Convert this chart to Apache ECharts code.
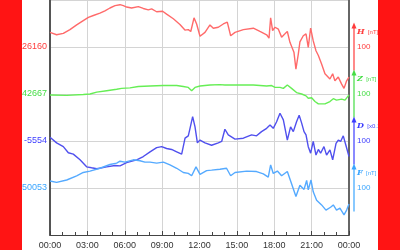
<!DOCTYPE html>
<html><head><meta charset="utf-8">
<script src="https://cdn.jsdelivr.net/npm/echarts@6/dist/echarts.min.js"></script>
<style>html,body{margin:0;padding:0;background:#fff}#c{width:400px;height:250px}</style>
</head><body><div id="c"></div>
<script>
// ---- data (hour of day, value) ----
const xLabels = ['00:00','03:00','06:00','09:00','12:00','15:00','18:00','21:00','00:00'];
const baseLabels = ['26160','42667','-5554','50053'];
const scaleLabels = ['100','100','100','100'];
const names = ['H','Z','D','F'];
const units = ['[nT]','[nT]',"[x0.1']",'[nT]'];

const hData = [[0,26191],[0.53,26186],[1.07,26189],[1.6,26197],[2.14,26207],[2.67,26216],[3.08,26223],[3.48,26227],[4.01,26232],[4.41,26237],[4.81,26243],[5.22,26248],[5.62,26250],[5.89,26248],[6.15,26245],[6.55,26243],[7.09,26246],[7.49,26242],[7.89,26239],[8.16,26241],[8.56,26235],[9.04,26236],[9.36,26230],[9.9,26220],[10.43,26208],[10.83,26196],[11.1,26197],[11.3,26193],[11.56,26222],[11.77,26209],[12.04,26183],[12.44,26191],[12.84,26207],[13.11,26200],[13.51,26202],[13.91,26209],[14.23,26213],[14.5,26184],[14.85,26191],[15.52,26197],[16.32,26200],[16.85,26193],[17.39,26186],[17.58,26179],[17.71,26222],[17.87,26195],[18.06,26202],[18.33,26198],[18.59,26181],[18.86,26188],[19.05,26193],[19.26,26170],[19.58,26149],[19.74,26113],[19.93,26145],[20.06,26171],[20.33,26184],[20.55,26188],[20.73,26159],[20.92,26200],[21.13,26173],[21.35,26152],[21.54,26142],[21.8,26124],[22.07,26103],[22.47,26092],[22.69,26103],[22.87,26088],[23.14,26096],[23.41,26081],[23.6,26072],[23.81,26088],[24,26096]];

const zData = [[0,42665],[1.34,42664],[2.67,42666],[3.21,42667],[3.75,42671],[4.55,42674],[5.35,42677],[5.75,42679],[6.42,42680],[7.09,42683],[8.03,42684],[9.1,42685],[10.17,42685],[10.7,42683],[11.1,42681],[11.37,42674],[11.64,42681],[12.04,42684],[12.84,42686],[13.64,42687],[14.04,42686],[15.25,42686],[16.32,42686],[17.39,42684],[17.79,42685],[18.06,42681],[18.46,42681],[18.73,42679],[19.05,42686],[19.39,42679],[19.79,42670],[20.2,42667],[20.55,42663],[20.73,42658],[21.0,42659],[21.27,42651],[21.54,42646],[22.07,42646],[22.47,42651],[22.74,42657],[23.0,42654],[23.41,42656],[23.68,42654],[24,42665]];

const dData = [[0,-5546],[0.53,-5558],[1.07,-5566],[1.47,-5579],[1.87,-5582],[2.41,-5594],[2.94,-5609],[3.34,-5611],[3.75,-5613],[4.55,-5609],[5.22,-5606],[5.62,-5607],[6.15,-5600],[6.96,-5594],[7.49,-5587],[8.03,-5577],[8.56,-5568],[8.96,-5566],[9.36,-5570],[9.76,-5572],[10.17,-5577],[10.57,-5582],[10.84,-5548],[11.1,-5543],[11.24,-5527],[11.45,-5502],[11.64,-5524],[11.83,-5558],[12.04,-5552],[12.44,-5558],[12.97,-5563],[13.51,-5558],[13.78,-5555],[14.04,-5529],[14.31,-5541],[14.85,-5550],[15.52,-5548],[16.18,-5541],[16.58,-5543],[16.98,-5534],[17.39,-5527],[17.66,-5520],[17.92,-5527],[18.19,-5513],[18.46,-5495],[18.73,-5509],[19.05,-5552],[19.31,-5524],[19.53,-5534],[19.79,-5513],[20.0,-5499],[20.2,-5516],[20.39,-5534],[20.55,-5541],[20.73,-5566],[20.92,-5580],[21.13,-5555],[21.35,-5584],[21.54,-5572],[21.72,-5580],[21.99,-5566],[22.2,-5584],[22.47,-5573],[22.69,-5594],[22.96,-5559],[23.14,-5552],[23.33,-5555],[23.54,-5543],[23.75,-5563],[24,-5587]];

const fData = [[0,50068],[0.53,50065],[1.34,50070],[2.14,50079],[2.67,50086],[3.21,50089],[4.01,50095],[4.81,50103],[5.35,50106],[5.62,50110],[6.02,50108],[6.69,50113],[7.22,50111],[7.62,50108],[8.03,50108],[8.56,50106],[9.1,50108],[9.63,50102],[10.17,50095],[10.7,50086],[11.1,50084],[11.37,50079],[11.72,50098],[12.04,50082],[12.57,50090],[12.97,50091],[13.64,50093],[14.17,50095],[14.5,50079],[14.85,50086],[15.79,50089],[16.58,50088],[17.12,50083],[17.52,50076],[17.71,50102],[17.92,50084],[18.25,50089],[18.59,50079],[19.05,50088],[19.39,50062],[19.74,50035],[20.06,50059],[20.39,50050],[20.6,50069],[20.73,50049],[20.95,50070],[21.13,50045],[21.4,50027],[21.8,50017],[22.15,50006],[22.52,50012],[22.74,50017],[23.0,50006],[23.27,50010],[23.6,49996],[23.81,50006],[24,50019]];

// ---- layout / style ----
const bases = [26160, 42667, -5554, 50053];
const offsets = [400, 300, 200, 100];
const lineColors = ['#ff6a6a', '#66ee55', '#5050ee', '#55aaff'];
const labelColors = ['#ff3b3b', '#44dd44', '#3c3cff', '#3aa5ff'];
const keys = ['h','z','d','f'];
const allData = [hData, zData, dData, fData];

const chart = echarts.init(document.getElementById('c'));
const richLeft = {}, richRight = {};
keys.forEach((k,i)=>{
  richLeft[k] = {color: labelColors[i], fontSize: 9, fontFamily: 'Liberation Sans, Arial, sans-serif'};
  richRight[k] = {color: labelColors[i], fontSize: 8, fontFamily: 'Liberation Sans, Arial, sans-serif'};
});
function idxOf(v){ return offsets.indexOf(Math.round(v)); }

const option = {
  animation: false,
  grid: {left: 50, right: 51, top: 0, bottom: 15},
  xAxis: {
    type: 'value', min: 0, max: 24, interval: 3,
    axisLine: {show: true, lineStyle: {color: '#444', width: 1}},
    axisTick: {show: true, inside: true, length: 4, lineStyle: {color: '#444'}},
    minorTick: {show: true, splitNumber: 3, length: 3, lineStyle: {color: '#444'}},
    splitLine: {show: true, lineStyle: {color: '#d4d4d4', width: 1}},
    axisLabel: {fontSize: 9, color: '#333', margin: 6, fontFamily: 'Liberation Sans, Arial, sans-serif',
      formatter: v => xLabels[Math.round(v/3)]}
  },
  yAxis: [{
    type: 'value', min: 0, max: 500, interval: 100, position: 'left',
    axisLine: {show: true, lineStyle: {color: '#555', width: 2}},
    axisTick: {show: false},
    splitLine: {show: true, lineStyle: {color: '#d4d4d4', width: 1}},
    axisLabel: {margin: 3, rich: richLeft,
      formatter: v => { const i = idxOf(v); return i < 0 ? '' : '{' + keys[i] + '|' + baseLabels[i] + '}'; }}
  }, {
    type: 'value', min: 0, max: 500, interval: 100, position: 'right',
    axisLine: {show: true, lineStyle: {color: '#666', width: 2}},
    axisTick: {show: false},
    splitLine: {show: false},
    axisLabel: {margin: 8, rich: richRight,
      formatter: v => { const i = idxOf(v); return i < 0 ? '' : '{' + keys[i] + '|' + scaleLabels[i] + '}'; }}
  }],
  series: allData.map((d, i) => ({
    type: 'line', showSymbol: false, symbol: 'none', smooth: false,
    lineStyle: {color: lineColors[i], width: 1.4},
    data: d.map(p => [p[0], offsets[i] + (p[1] - bases[i])])
  }))
};
chart.setOption(option);

// decorations: scale arrows, names and red side bars
const gfx = [];
const xr = chart.convertToPixel({xAxisIndex: 0}, 24) + 5;
offsets.forEach((o, i) => {
  const yTop = chart.convertToPixel({yAxisIndex: 0}, o + 50);
  const yBot = chart.convertToPixel({yAxisIndex: 0}, o - 50);
  const yName = chart.convertToPixel({yAxisIndex: 0}, o + 32);
  gfx.push({type: 'line', shape: {x1: xr, y1: yTop + 3, x2: xr, y2: yBot}, style: {stroke: labelColors[i], lineWidth: 1.2}, z: 10});
  gfx.push({type: 'polygon', shape: {points: [[xr, yTop - 1], [xr - 2.5, yTop + 5], [xr + 2.5, yTop + 5]]}, style: {fill: labelColors[i]}, z: 10});
  gfx.push({type: 'text', x: xr + 3, y: yName, style: {
    text: '{n|' + names[i] + '} {u|' + units[i] + '}', verticalAlign: 'middle',
    rich: {n: {fill: labelColors[i], fontSize: 8, fontStyle: 'italic', fontWeight: 'bold', fontFamily: 'DejaVu Serif, serif'},
           u: {fill: labelColors[i], fontSize: 6, fontFamily: 'Liberation Sans, Arial, sans-serif'}}
  }, z: 10});
});
gfx.push({type: 'rect', shape: {x: 0, y: 0, width: 22, height: 250}, style: {fill: '#ff1414'}, z: 100});
gfx.push({type: 'rect', shape: {x: 378, y: 0, width: 22, height: 250}, style: {fill: '#ff1414'}, z: 100});
chart.setOption({graphic: gfx});
</script>
</body></html>
